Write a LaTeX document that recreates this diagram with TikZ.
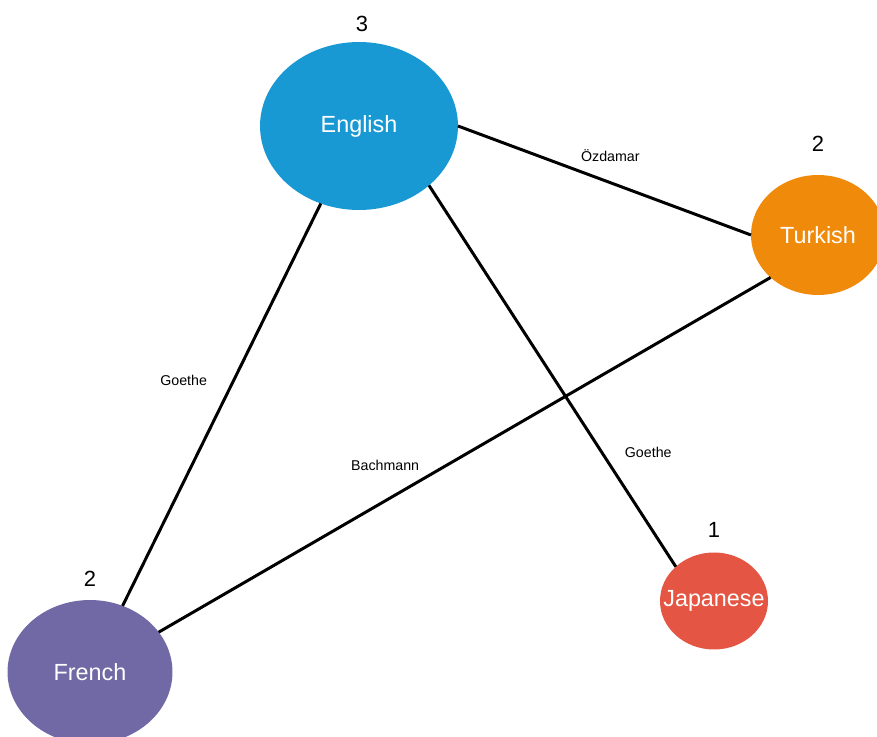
\documentclass[tikz,border=0pt]{standalone}
\usepackage{fontspec}
\setmainfont{Liberation Sans}
\usepackage{xcolor}
\usetikzlibrary{positioning, shapes.geometric}
\definecolor{englishblue}{HTML}{1899D3}
\definecolor{turkishorange}{HTML}{F08A0B}
\definecolor{frenchpurple}{HTML}{7168A6}
\definecolor{japanesered}{HTML}{E45543}

\begin{document}
\begin{tikzpicture}[x=0.02cm, y=-0.02cm,
        lang/.style={ellipse, inner sep=0pt, outer sep=0pt, text=white, font=\fontsize{13.3}{16}\selectfont},
        count/.style={inner sep=0pt, font=\fontsize{12.5}{15}\selectfont},
        link/.style={line width=1.7pt},
        book/.style={inner sep=0pt, font=\fontsize{8.1}{10}\selectfont}]
        \useasboundingbox (0,0) rectangle (877,737);
        \node[lang, fill=englishblue, minimum width=3.96cm, minimum height=3.36cm] (english) at (359,126) {\makebox[0pt]{English}};
        \node[lang, fill=turkishorange, minimum width=2.68cm, minimum height=2.4cm] (turkish) at (818,235) {\makebox[0pt]{Turkish}};
        \node[lang, fill=frenchpurple, minimum width=3.3cm, minimum height=2.88cm] (french) at (90,672) {\makebox[0pt]{French}};
        \node[lang, fill=japanesered, minimum width=2.16cm, minimum height=1.94cm] (japanese) at (714,601) {\makebox[0pt]{Japanese}};
        \node[count, above=5.7pt of english, xshift=0.06cm] (englishcount) {3};
        \node[count, above=13pt of turkish] (turkishcount) {2};
        \node[count, above=7.4pt of french] (frenchcount) {2};
        \node[count, above=8.5pt of japanese] (japanesecount) {1};
        \draw[link] (english.east) -- node[book, pos=0.52, yshift=0.54cm] (ozdamar) {Özdamar} (turkish.west);
        \draw[link] (english) -- node[book, pos=0.44, xshift=-1cm] (goetheleft) {Goethe} (french);
        \draw[link] (english.south east) -- node[book, pos=0.7, xshift=0.93cm] (goetheright) {Goethe} (japanese.north west);
        \draw[link] (turkish.south west) -- node[book, pos=0.63, yshift=0.72cm] (bachmann) {Bachmann} (french);
    \end{tikzpicture}
\end{document}
